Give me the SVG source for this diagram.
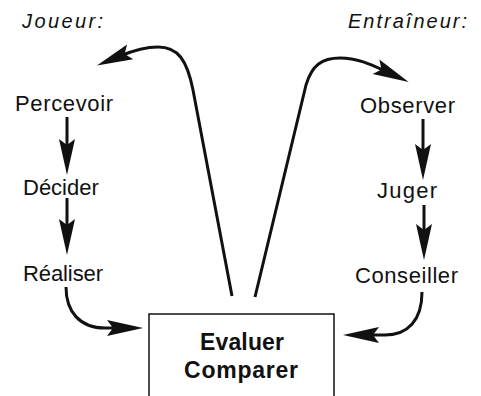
<svg xmlns="http://www.w3.org/2000/svg" width="481" height="396" viewBox="0 0 481 396">
<style>
.t{font-family:"Liberation Sans",Arial,Helvetica,sans-serif;font-size:22px;fill:#111}
.h{font-style:italic;font-size:20px}
.b{font-weight:bold;font-size:23px}
.c{fill:none;stroke:#111;stroke-width:3;stroke-linecap:butt;stroke-linejoin:round;marker-end:url(#ah)}
.box{fill:#fff;stroke:#111;stroke-width:1.5}
</style>
<defs>
<marker id="ah" markerUnits="userSpaceOnUse" markerWidth="40" markerHeight="18" refX="11" refY="8" orient="auto" overflow="visible">
<path d="M0,0 L36,8 L0,16 L6,8 Z" fill="#111"/>
</marker>
</defs>
<rect width="481" height="396" fill="#fff"/>
<g id="title-joueur"><text class="t h" x="22" y="28" textLength="81" lengthAdjust="spacing">Joueur:</text></g>
<g id="title-entraineur"><text class="t h" x="348" y="28" textLength="119" lengthAdjust="spacing">Entraîneur:</text></g>
<g id="percevoir"><text class="t" x="15" y="111" textLength="98" lengthAdjust="spacing">Percevoir</text></g>
<g id="decider"><text class="t" x="23" y="195">Décider</text></g>
<g id="realiser"><text class="t" x="23" y="281" textLength="80" lengthAdjust="spacing">Réaliser</text></g>
<g id="observer"><text class="t" x="360" y="113" textLength="95" lengthAdjust="spacing">Observer</text></g>
<g id="juger"><text class="t" x="377" y="198" textLength="60" lengthAdjust="spacing">Juger</text></g>
<g id="conseiller"><text class="t" x="355" y="283" textLength="103" lengthAdjust="spacing">Conseiller</text></g>
<g id="evaluer-comparer">
<rect class="box" x="149" y="314" width="185" height="100"/>
<text class="t b" x="200" y="350" textLength="84" lengthAdjust="spacing">Evaluer</text>
<text class="t b" x="184" y="378" textLength="114" lengthAdjust="spacing">Comparer</text>
</g>
<g id="connectors">
<path class="c" d="M67,117 L67,150"/>
<path class="c" d="M67,198 L67,230"/>
<path class="c" d="M423,119 L423,155"/>
<path class="c" d="M424,205 L424,235"/>
<path class="c" d="M66,287 C66,312 80,328 105,328 L118,328"/>
<path class="c" d="M422,292 C422,320 408,335 385,335 L368,335"/>
<path class="c" d="M232,296 L193,90 C187,60 178,47 158,47 C145,47 132,51 120,56"/>
<path class="c" d="M255,297 L306,85 C312,65 322,58 340,58 C358,58 372,65 386,71.5"/>
</g>
</svg>
